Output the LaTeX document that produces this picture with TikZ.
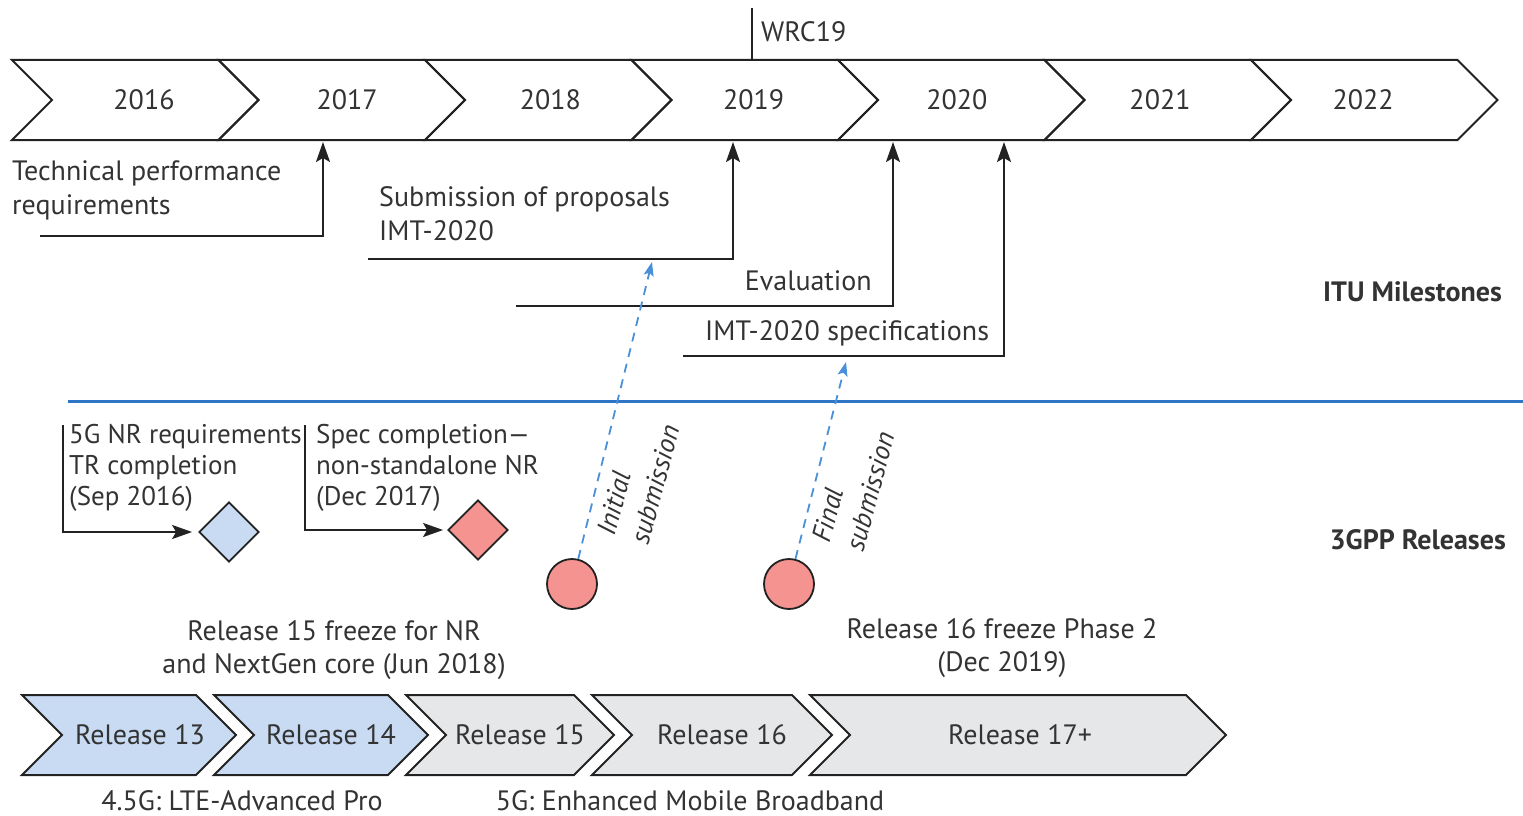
\documentclass[tikz,border=0pt]{standalone}
\usepackage{fontspec}
\setmainfont{PT Sans}
\usepackage{xcolor}
\usetikzlibrary{positioning,arrows.meta,shapes.symbols,shapes.geometric}

\definecolor{relblue}{HTML}{C8DBF2}
\definecolor{relgrey}{HTML}{E6E7E9}
\definecolor{redfill}{HTML}{F4938F}
\definecolor{sepblue}{HTML}{2E75C5}
\definecolor{dashblue}{HTML}{4A90D9}
\definecolor{txtgrey}{HTML}{333333}
\definecolor{linegrey}{HTML}{222222}

\begin{document}
\begin{tikzpicture}[x=1pt, y=-1pt, >={Stealth[length=20pt,width=14pt,inset=4pt]},
    font=\fontsize{28}{34}\selectfont, text=txtgrey,
    chev/.style={signal, signal from=west, signal to=east, draw=linegrey,
      line width=2pt, minimum height=80pt, inner sep=0pt},
    yearchev/.style={chev, minimum width=246.5pt},
    ms/.style={->, line width=2pt, draw=linegrey},
    sub/.style={-{Stealth[length=14pt,width=10pt,inset=3pt]}, line width=1.8pt,
      draw=dashblue, dash pattern=on 9pt off 7pt},
    lbl/.style={inner sep=0pt, align=left},
    grp/.style={inner sep=0pt, font=\fontsize{28}{34}\selectfont\bfseries},
    mile/.style={diamond, draw=linegrey, line width=1.8pt, minimum width=60pt,
      minimum height=60pt, inner sep=0pt},
    dot/.style={circle, draw=linegrey, line width=1.8pt, fill=redfill,
      minimum size=50pt, inner sep=0pt}]
  \useasboundingbox (0,0) rectangle (1523,816);

  % ITU years
  \foreach \yr [count=\i from 0] in {2016,2017,2018,2019,2020,2021,2022}
    \node[yearchev, label={[xshift=8.75pt-3.3pt*\i]center:\yr}] (y\yr) at (135.25+206.5*\i,100) {};

  \coordinate (wrc) at (752,8);
  \draw[line width=2pt, linegrey] (wrc) -- (752,60);
  \node[lbl, anchor=west] (wrclbl) at (761,32) {WRC19};

  % ITU milestones
  \node[lbl, anchor=west] (tpr) at (12,190) {Technical performance\\requirements};
  \node[lbl, anchor=west] (subm) at (379,214) {Submission of proposals\\IMT-2020};
  \node[lbl, anchor=east] (eval) at (872,281) {Evaluation};
  \node[lbl, anchor=west] (spec) at (705,333) {IMT-2020 specifications};

  \coordinate (tpr-a) at (40,236);   \coordinate (tpr-b) at (323,142);
  \coordinate (subm-a) at (368,259); \coordinate (subm-b) at (733,142);
  \coordinate (eval-a) at (516,306); \coordinate (eval-b) at (893,142);
  \coordinate (spec-a) at (683,356); \coordinate (spec-b) at (1004,142);

  \draw[ms] (tpr-a) -| (tpr-b);
  \draw[ms] (subm-a) -| (subm-b);
  \draw[ms] (eval-a) -| (eval-b);
  \draw[ms] (spec-a) -| (spec-b);

  \node[grp, anchor=east] (itu) at (1502,292) {ITU Milestones};

  % separator
  \draw[line width=3pt, sepblue] (68,401) -- (1523,401);

  \node[grp, anchor=east] (gpp) at (1506,540) {3GPP Releases};

  % 3GPP milestones
  \node[lbl, anchor=west, font=\fontsize{27}{31}\selectfont] (nrreq) at (69,468)
    {5G NR requirements\\TR completion\\(Sep 2016)};
  \node[lbl, anchor=west, font=\fontsize{27}{31}\selectfont] (nsa) at (316,468)
    {Spec completion---\\non-standalone NR\\(Dec 2017)};

  \node[mile, fill=relblue] (d1) at (229,532) {};
  \node[mile, fill=redfill] (d2) at (478,530) {};

  \coordinate (b1) at (63,425);
  \coordinate (b2) at (305,425);
  \draw[ms, shorten >=6pt] (b1) |- (d1.west);
  \draw[ms, shorten >=4pt] (b2) |- (d2.west);

  % submissions
  \node[dot] (c1) at (572,584) {};
  \node[dot] (c2) at (789,584) {};
  \coordinate (ini-end) at (652,262);
  \coordinate (fin-end) at (846,362);
  \draw[sub] (c1) -- (ini-end);
  \draw[sub] (c2) -- (fin-end);

  \node[lbl, rotate=75, font=\fontsize{27}{35}\selectfont\itshape] (ini) at (638,480) {Initial\\submission};
  \node[lbl, rotate=75, font=\fontsize{27}{35}\selectfont\itshape] (fin) at (853,487) {Final\\submission};

  % freezes
  \node[inner sep=0pt, align=center, font=\fontsize{28}{33}\selectfont] (frz15) at (334,650)
    {Release 15 freeze for NR\\and NextGen core (Jun 2018)};
  \node[inner sep=0pt, align=center, font=\fontsize{28}{33}\selectfont] (frz16) at (1002,648)
    {Release 16 freeze Phase 2\\(Dec 2019)};

  % releases
  \node[chev, fill=relblue, minimum width=214pt, label={[xshift=11pt]center:Release 13}] (r13) at (129,735) {};
  \node[chev, fill=relblue, minimum width=214pt, label={[xshift=10pt]center:Release 14}] (r14) at (321,735) {};
  \node[chev, fill=relgrey, minimum width=208pt, label={[xshift=10pt]center:Release 15}] (r15) at (510,735) {};
  \node[chev, fill=relgrey, minimum width=240pt, label={[xshift=10pt]center:Release 16}] (r16) at (712,735) {};
  \node[chev, fill=relgrey, minimum width=416pt, label={[xshift=2pt]center:Release 17+}] (r17) at (1018,735) {};

  \node[inner sep=0pt] (lte) at (242,801) {4.5G: LTE-Advanced Pro};
  \node[inner sep=0pt] (embb) at (690,801) {5G: Enhanced Mobile Broadband};
\end{tikzpicture}
\end{document}
